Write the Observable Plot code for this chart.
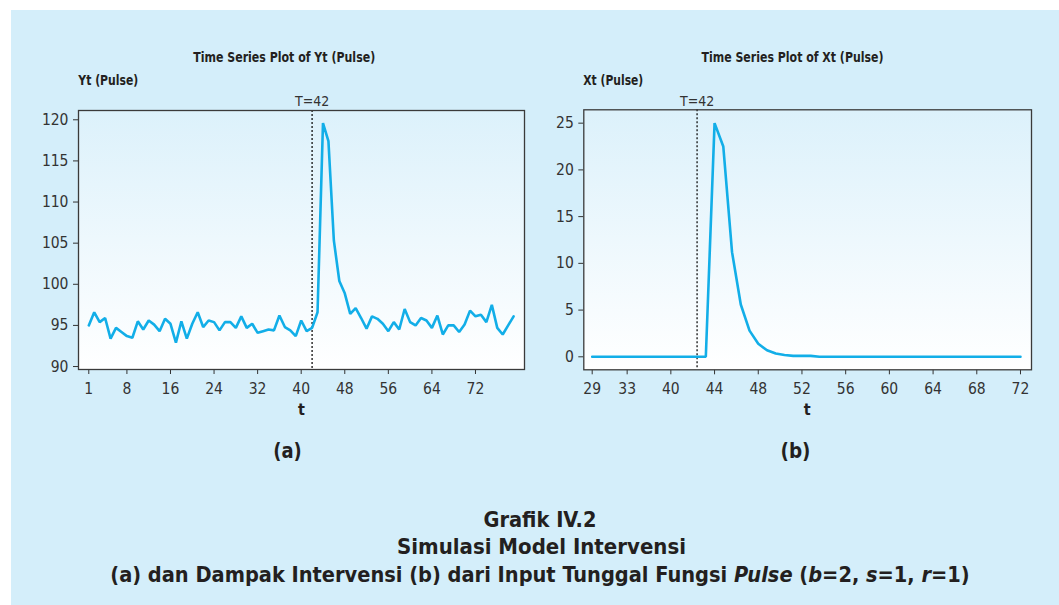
<!DOCTYPE html>
<html>
<head>
<meta charset="utf-8">
<script src="https://cdn.jsdelivr.net/npm/d3@7"></script>
<script src="https://cdn.jsdelivr.net/npm/@observablehq/plot@0.6"></script>
<style>
  html, body { margin: 0; padding: 0; background: #ffffff; }
  #page { position: relative; width: 1059px; height: 605px; overflow: hidden; }
  #panel { position: absolute; left: 11px; top: 10px; width: 1048px; height: 595px; background: #d4eefa; }
  .chart { position: absolute; top: 0; }
  #overlay { position: absolute; left: 0; top: 0; pointer-events: none; }
</style>
</head>
<body>
<div id="page">
  <div id="panel"></div>
  <div id="chartA" class="chart" style="left:0px"></div>
  <div id="chartB" class="chart" style="left:540px"></div>
  <svg id="overlay" width="1059" height="605"></svg>
</div>
<script>
// ---------------- DATA ----------------
// Panel (a): Yt (Pulse), t = 1..79
const ytValues = [
  95.0, 96.6, 95.4, 95.9, 93.4, 94.7, 94.2, 93.7, 93.5, 95.5,
  94.5, 95.6, 95.1, 94.3, 95.8, 95.2, 92.9, 95.5, 93.4, 95.2,
  96.6, 94.8, 95.6, 95.4, 94.4, 95.4, 95.4, 94.7, 96.1, 94.7,
  95.2, 94.1, 94.3, 94.5, 94.4, 96.2, 94.8, 94.4, 93.7, 95.6,
  94.3, 94.7, 96.6, 119.6, 117.4, 105.3, 100.4, 98.9, 96.4, 97.1,
  95.9, 94.6, 96.1, 95.8, 95.2, 94.3, 95.4, 94.5, 97.0, 95.4,
  95.0, 95.9, 95.6, 94.7, 96.2, 93.9, 95.0, 95.0, 94.2, 95.1,
  96.8, 96.1, 96.3, 95.4, 97.5, 94.7, 93.9, 95.0, 96.1
];
const ytTime = d3.range(1, ytValues.length + 1);
const ytXTicks = [1, 8, 16, 24, 32, 40, 48, 56, 64, 72];
const ytYTicks = [90, 95, 100, 105, 110, 115, 120];

// Panel (b): Xt (Pulse), observation index 1..50
const xtValues = [
  0, 0, 0, 0, 0, 0, 0, 0, 0, 0,
  0, 0, 0, 0, 25, 22.5, 11.2, 5.6, 2.8, 1.4,
  0.7, 0.35, 0.2, 0.1, 0.1, 0.1, 0, 0, 0, 0,
  0, 0, 0, 0, 0, 0, 0, 0, 0, 0,
  0, 0, 0, 0, 0, 0, 0, 0, 0, 0
];
const xtIndex = d3.range(1, xtValues.length + 1);
const xtXTickPositions = [1, 5, 10, 15, 20, 25, 30, 35, 40, 45, 50];
const xtXTickLabels = ["29", "33", "40", "44", "48", "52", "56", "60", "64", "68", "72"];
const xtYTicks = [0, 5, 10, 15, 20, 25];

// Intervention markers
const interventionA = [42];   // on t scale
const interventionB = [13];   // on index scale
const interventionLabel = "T=42";

// Texts
const titleA = "Time Series Plot of Yt (Pulse)";
const titleB = "Time Series Plot of Xt (Pulse)";
const yLabelA = "Yt (Pulse)";
const yLabelB = "Xt (Pulse)";
const xLabel = "t";
const panelA = "(a)";
const panelB = "(b)";
const captionLine1 = "Grafik IV.2";
const captionLine2 = "Simulasi Model Intervensi";
const captionLine3Parts = [
  ["(a) dan Dampak Intervensi (b) dari Input Tunggal Fungsi ", false],
  ["Pulse", true], [" (", false], ["b", true], ["=2, ", false],
  ["s", true], ["=1, ", false], ["r", true], ["=1)", false]
];

// ---------------- STYLE ----------------
const FONT = "'Liberation Sans Narrow', 'Arial Narrow', 'DejaVu Sans Condensed', 'Open Sans', sans-serif";
const LINE = "#12aee8";
const INK = "#333333";

function addGradient(svg, id) {
  d3.select(svg).insert("defs", ":first-child").html(
    `<linearGradient id="${id}" x1="0" y1="0" x2="0" y2="1">
       <stop offset="0" stop-color="#dcf1fb"/>
       <stop offset="1" stop-color="#ffffff"/>
     </linearGradient>`);
}

const dataA = ytTime.map((t, i) => ({t, v: ytValues[i]}));
const dataB = xtIndex.map((k, i) => ({k, v: xtValues[i]}));

const chartA = Plot.plot({
  width: 540, height: 430,
  marginLeft: 78, marginRight: 16, marginTop: 110, marginBottom: 61,
  style: {background: "transparent", fontFamily: FONT, fontSize: "15.5px", color: INK, overflow: "visible"},
  x: {domain: [-0.89, 81.0], ticks: ytXTicks, tickSize: 5, tickPadding: 8, label: null},
  y: {domain: [89.64, 121.13], ticks: ytYTicks, tickSize: 5, tickPadding: 5, label: null},
  marks: [
    Plot.frame({fill: "url(#gradA)", stroke: "none"}),
    Plot.ruleX(interventionA, {stroke: "#111", strokeWidth: 1.3, strokeDasharray: "2,2"}),
    Plot.line(dataA, {x: "t", y: "v", stroke: LINE, strokeWidth: 2.6, strokeLinejoin: "miter"}),
    Plot.frame({stroke: "#3a3a3a", strokeWidth: 1.3}),
    Plot.text(interventionA, {x: d => d, text: () => interventionLabel, frameAnchor: "top", dy: -14, fill: INK, fontSize: 14})
  ]
});
addGradient(chartA, "gradA");
document.getElementById("chartA").appendChild(chartA);

const chartB = Plot.plot({
  width: 519, height: 430,
  marginLeft: 43.3, marginRight: 28, marginTop: 109.3, marginBottom: 60.7,
  style: {background: "transparent", fontFamily: FONT, fontSize: "15.5px", color: INK, overflow: "visible"},
  x: {domain: [0.04, 51.26], ticks: xtXTickPositions, tickFormat: d => xtXTickLabels[xtXTickPositions.indexOf(d)], tickSize: 5, tickPadding: 8, label: null},
  y: {domain: [-1.39, 26.43], ticks: xtYTicks, tickSize: 5, tickPadding: 5, label: null},
  marks: [
    Plot.frame({fill: "url(#gradB)", stroke: "none"}),
    Plot.ruleX(interventionB, {stroke: "#111", strokeWidth: 1.3, strokeDasharray: "2,2"}),
    Plot.line(dataB, {x: "k", y: "v", stroke: LINE, strokeWidth: 2.6, strokeLinejoin: "miter"}),
    Plot.frame({stroke: "#3a3a3a", strokeWidth: 1.3}),
    Plot.text(interventionB, {x: d => d, text: () => interventionLabel, frameAnchor: "top", dy: -14, fill: INK, fontSize: 14})
  ]
});
addGradient(chartB, "gradB");
document.getElementById("chartB").appendChild(chartB);

// ---------------- OVERLAY TEXT ----------------
const ov = d3.select("#overlay");
function txt(s, x, y, opts) {
  const t = ov.append("text")
    .attr("x", x).attr("y", y)
    .attr("font-family", FONT)
    .attr("font-size", opts.size)
    .attr("font-weight", opts.weight || "bold")
    .attr("fill", opts.fill || "#231f20")
    .attr("text-anchor", opts.anchor || "middle")
    .text(s);
  if (opts.italic) t.attr("font-style", "italic");
  if (opts.len) t.attr("textLength", opts.len).attr("lengthAdjust", "spacingAndGlyphs");
  return t;
}
txt(titleA, 284.2, 61.5, {size: 14, len: 182});
txt(titleB, 792.5, 61.5, {size: 14, len: 182});
txt(yLabelA, 78.3, 84.5, {size: 14, anchor: "start", len: 60});
txt(yLabelB, 583.3, 84.5, {size: 14, anchor: "start", len: 60});
txt(xLabel, 301.5, 415, {size: 16});
txt(xLabel, 807.3, 415, {size: 16});
txt(panelA, 287.5, 458, {size: 22, len: 28.5});
txt(panelB, 795.5, 458, {size: 22, len: 30});
txt(captionLine1, 540, 527, {size: 22, len: 113});
txt(captionLine2, 541.5, 554, {size: 22, len: 289});

// Caption line 3: separate runs laid out side by side, scaled to the reference width
(function () {
  const target = 860, centerX = 540, baseY = 582, base = 22;
  const runs = captionLine3Parts.map(([s, it]) =>
    txt(s, 0, baseY, {size: base, anchor: "start", italic: it}).attr("xml:space", "preserve").style("white-space", "pre"));
  let total = runs.reduce((acc, r) => acc + r.node().getComputedTextLength(), 0);
  const fs = base * target / total;
  runs.forEach(r => r.attr("font-size", fs));
  const widths = runs.map(r => r.node().getComputedTextLength());
  total = d3.sum(widths);
  let x = centerX - total / 2;
  runs.forEach((r, i) => { r.attr("x", x); x += widths[i]; });
})();
</script>
</body>
</html>
